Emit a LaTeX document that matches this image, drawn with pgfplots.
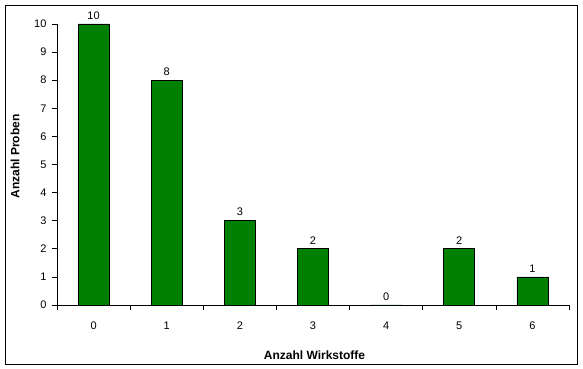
\documentclass[border=0pt]{standalone}
\usepackage{pgfplots}
\pgfplotsset{compat=1.18}
\usepackage{fontspec}
\setmainfont{Liberation Sans}
\definecolor{bargreen}{HTML}{008000}
\begin{document}
\begin{tikzpicture}[x=1pt,y=1pt]
\path[use as bounding box] (0,0) rectangle (583,369);
\draw[line width=0.8pt] (5,5) rectangle (577,364);
\begin{axis}[
  at={(57pt,64pt)}, anchor=south west,
  scale only axis, width=512pt, height=281pt,
  xmin=-0.5, xmax=6.5, ymin=0, ymax=10,
  axis x line=bottom, axis y line=left,
  axis line style={-, line width=0.6pt},
  xtick={0,1,2,3,4,5,6},
  minor xtick={-0.5,0.5,1.5,2.5,3.5,4.5,5.5,6.5},
  major x tick style={draw=none},
  minor tick length=5pt,
  ytick={0,1,...,10},
  major tick length=5pt,
  tick align=outside,
  tick style={black, line width=0.6pt},
  /pgf/number format/assume math mode=true,
  tick label style={font=\fontsize{11}{13}\selectfont},
  xticklabel style={yshift=-8pt},
  yticklabel style={xshift=-2pt},
  bar width=31pt,
  nodes near coords,
  every node near coord/.append style={font=\fontsize{11}{13}\selectfont, yshift=1pt},
  clip=false,
]
\addplot[ybar, fill=bargreen, draw=black, line width=0.6pt] coordinates {
(0,10) (1,8) (2,3) (3,2) (4,0) (5,2) (6,1)
};
\end{axis}
\node[font=\bfseries\fontsize{12}{14}\selectfont] at (314.5,14) {Anzahl Wirkstoffe};
\node[font=\bfseries\fontsize{12}{14}\selectfont, rotate=90] at (15,212.5) {Anzahl Proben};
\end{tikzpicture}
\end{document}
